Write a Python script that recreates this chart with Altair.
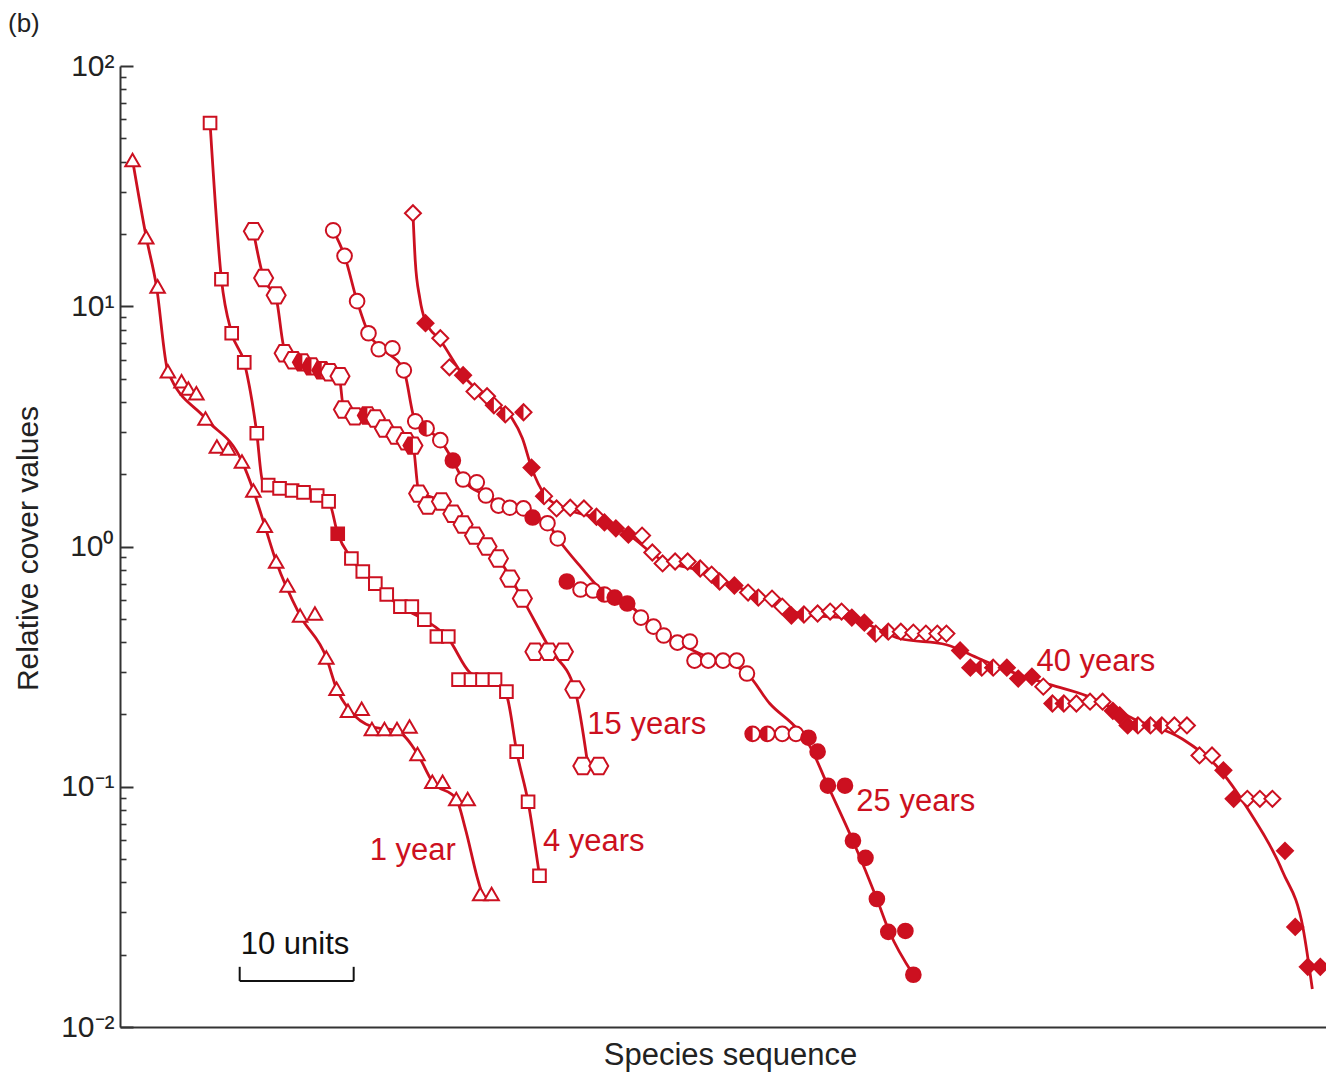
import altair as alt
import pandas as pd

RED = "#cc1020"
INK = "#222222"
FONT = "Liberation Sans"

# Species-sequence position (units) and relative cover of every species,
# one set per stand age.  Fill codes: o = open, f = filled, h = half filled.
X_1YR = [1.1, 2.3, 3.3, 4.2, 5.4, 6.0, 6.7, 7.5, 8.5, 9.5, 10.7, 11.7, 12.7, 13.7, 14.7, 15.8,
         17.1, 18.1, 19.0, 20.0, 21.2, 22.1, 23.2, 24.3, 25.4, 26.1, 27.4, 28.3, 29.5, 30.5, 31.6, 32.6]
Y_1YR = [40.6, 19.4, 12.1, 5.36, 4.87, 4.55, 4.34, 3.41, 2.61, 2.56, 2.26, 1.71, 1.22, 0.866, 0.688, 0.516,
         0.526, 0.345, 0.256, 0.207, 0.211, 0.174, 0.174, 0.174, 0.178, 0.137, 0.105, 0.105, 0.089, 0.089,
         0.0358, 0.0358]
F_1YR = list("o" * 32)

X_4YR = [7.9, 8.9, 9.8, 10.9, 12.0, 13.0, 14.0, 15.1, 16.1, 17.3, 18.3, 19.1, 20.3, 21.3, 22.4, 23.4,
         24.6, 25.6, 26.7, 27.8, 28.8, 29.7, 30.8, 31.8, 32.9, 33.9, 34.8, 35.8, 36.8]
Y_4YR = [57.9, 12.95, 7.72, 5.84, 2.96, 1.80, 1.745, 1.71, 1.68, 1.63, 1.54, 1.13, 0.891, 0.787, 0.701,
         0.631, 0.562, 0.562, 0.496, 0.422, 0.422, 0.279, 0.279, 0.279, 0.279, 0.249, 0.140, 0.0866, 0.0426]
F_4YR = list("ooooooooooo" "f" "ooooooooooooooooo")

X_15YR = [11.7, 12.6, 13.7, 14.4, 15.2, 16.0, 16.8, 17.7, 18.4, 19.3, 19.6, 20.6, 21.7, 22.4, 23.2, 24.2,
          25.1, 25.7, 26.2, 27.0, 28.2, 29.2, 30.1, 31.1, 32.2, 33.2, 34.2, 35.3, 36.4, 37.6, 38.9, 39.9,
          40.6, 42.0]
Y_15YR = [20.5, 13.1, 11.1, 6.37, 5.96, 5.84, 5.62, 5.41, 5.31, 5.11, 3.72, 3.48, 3.51, 3.41, 3.10, 2.90,
          2.74, 2.63, 1.66, 1.48, 1.54, 1.37, 1.235, 1.11, 1.0, 0.891, 0.735, 0.607, 0.365, 0.365, 0.365,
          0.254, 0.122, 0.122]
F_15YR = list("ooooohhhoo" "oohoooohoo" "oooooooooo" "oooo")

X_25YR = [18.7, 19.7, 20.8, 21.8, 22.7, 23.9, 24.9, 25.9, 26.9, 28.1, 29.2, 30.1, 31.3, 32.1, 33.2, 34.2,
          35.4, 36.2, 37.5, 38.4, 39.2, 40.4, 41.5, 42.5, 43.4, 44.5, 45.7, 46.8, 47.7, 48.9, 50.0, 50.4,
          51.6, 52.9, 54.1, 55.0, 55.5, 56.8, 58.1, 59.3, 60.4, 61.2, 62.1, 63.6, 64.3, 65.4, 66.4, 67.4,
          68.9, 69.6]
Y_25YR = [20.7, 16.2, 10.5, 7.72, 6.62, 6.68, 5.41, 3.32, 3.10, 2.77, 2.28, 1.90, 1.85, 1.63, 1.48, 1.45,
          1.44, 1.32, 1.25, 1.08, 0.715, 0.662, 0.656, 0.631, 0.613, 0.579, 0.506, 0.464, 0.426, 0.398,
          0.402, 0.335, 0.335, 0.335, 0.335, 0.296, 0.166, 0.166, 0.166, 0.166, 0.160, 0.140, 0.101, 0.101,
          0.0596, 0.0506, 0.0341, 0.0249, 0.0251, 0.0165]
F_25YR = list("ooooooooho" "foooooofoo" "foohffoooo" "oooooohhoo" "ffffffffff")

X_40YR = [25.7, 26.8, 28.1, 28.9, 30.1, 31.1, 32.2, 32.8, 33.8, 35.4, 36.1, 37.2, 38.3, 39.5, 40.7, 41.8,
          42.5, 43.5, 44.6, 45.8, 46.7, 47.6, 48.7, 49.8, 50.9, 51.9, 52.6, 53.9, 55.1, 56.0, 57.2, 58.1,
          58.9, 60.0, 61.2, 62.3, 63.3, 64.2, 65.3, 66.3, 67.4, 68.5, 69.6, 70.7, 71.7, 72.5, 73.7, 74.6,
          75.6, 76.6, 77.8, 78.8, 80.0, 81.0, 81.8, 82.8, 83.9, 85.1, 86.2, 87.1, 87.7, 88.4, 89.3, 90.4,
          91.4, 92.5, 93.6, 94.7, 95.8, 96.8, 97.7, 98.9, 100.0, 101.1, 102.2, 103.1, 104.2, 105.3]
Y_40YR = [24.4, 8.50, 7.36, 5.57, 5.16, 4.42, 4.22, 3.87, 3.55, 3.62, 2.13, 1.62, 1.44, 1.45, 1.44, 1.33,
          1.26, 1.19, 1.12, 1.11, 0.944, 0.850, 0.866, 0.866, 0.810, 0.764, 0.715, 0.688, 0.643, 0.613,
          0.607, 0.562, 0.516, 0.521, 0.526, 0.536, 0.536, 0.506, 0.482, 0.434, 0.442, 0.442, 0.438, 0.434,
          0.434, 0.434, 0.369, 0.313, 0.313, 0.313, 0.313, 0.282, 0.287, 0.261, 0.222, 0.222, 0.222, 0.226,
          0.226, 0.207, 0.198, 0.180, 0.180, 0.180, 0.180, 0.180, 0.180, 0.135, 0.135, 0.117, 0.0891,
          0.0891, 0.0891, 0.0891, 0.0541, 0.0261, 0.0178, 0.0178]
F_40YR = list("ofoofoohhh" "fhooohfffo" "oooohohfoh" "oofhoooffh" "hoooooffhh"
              "fffohhooof" "ffhhhoooof" "foooffff")

# Fitted curves drawn through each set
CX_1YR = [1.1, 2.3, 3.2, 4.2, 7.5, 10.7, 11.7, 12.7, 13.7, 15.8, 18.1, 19.0, 20.2, 22.1, 24.3, 26.1,
          27.4, 29.5, 30.3, 31.3, 31.9]
CY_1YR = [40.6, 19.4, 12.1, 5.36, 3.41, 2.26, 1.71, 1.22, 0.866, 0.516, 0.345, 0.256, 0.207, 0.178,
          0.171, 0.137, 0.105, 0.089, 0.0668, 0.0426, 0.0341]
CX_4YR = [7.9, 8.9, 9.8, 10.9, 12.0, 12.5, 13.3, 18.3, 19.1, 20.3, 22.4, 24.6, 26.7, 28.8, 30.7, 33.3,
          34.0, 34.8, 35.8, 36.8]
CY_4YR = [57.9, 12.95, 7.72, 5.84, 2.96, 1.88, 1.76, 1.54, 1.13, 0.891, 0.701, 0.562, 0.496, 0.414,
          0.299, 0.266, 0.233, 0.140, 0.0866, 0.0426]
CX_15YR = [11.7, 12.6, 13.7, 14.4, 15.2, 19.2, 19.6, 22.4, 24.2, 25.7, 26.2, 28.2, 31.1, 33.2, 35.3,
           37.7, 39.9, 41.0]
CY_15YR = [20.5, 13.1, 10.8, 6.68, 5.96, 5.21, 3.83, 3.41, 2.90, 2.63, 1.71, 1.54, 1.11, 0.891, 0.607,
           0.376, 0.254, 0.127]
CX_25YR = [18.7, 19.7, 20.8, 21.8, 23.2, 24.9, 25.9, 28.1, 29.2, 30.1, 32.1, 34.2, 36.2, 37.5, 38.4,
           40.4, 42.5, 44.5, 46.8, 48.9, 50.9, 55.0, 57.0, 59.4, 60.5, 62.1, 64.3, 66.4, 67.5, 69.6]
CY_25YR = [20.7, 16.2, 10.5, 7.72, 6.56, 5.41, 3.32, 2.77, 2.28, 1.90, 1.63, 1.45, 1.32, 1.25, 1.08,
           0.825, 0.643, 0.579, 0.464, 0.398, 0.358, 0.296, 0.222, 0.174, 0.148, 0.101, 0.0596, 0.0341,
           0.0249, 0.0165]
CX_40YR = [25.7, 25.9, 26.3, 26.8, 28.1, 30.1, 32.8, 34.4, 35.3, 36.1, 37.3, 38.6, 42.1, 44.6, 47.6,
           50.9, 53.9, 57.2, 60.0, 64.2, 68.4, 72.5, 75.4, 78.1, 81.6, 84.8, 88.9, 93.2, 96.2, 99.1,
           102.0, 103.8, 104.6]
CY_40YR = [24.4, 15.5, 10.8, 8.66, 7.22, 5.16, 3.94, 3.41, 2.82, 2.13, 1.63, 1.47, 1.30, 1.12, 0.874,
           0.794, 0.688, 0.590, 0.521, 0.501, 0.414, 0.390, 0.341, 0.302, 0.266, 0.239, 0.192, 0.158,
           0.122, 0.0787, 0.0443, 0.0256, 0.0144]

# Curve labels
LABELS = ["1 year", "4 years", "15 years", "25 years", "40 years"]
LABEL_X = [21.9, 37.1, 41.0, 64.6, 80.4]
LABEL_Y = [0.0541, 0.059, 0.181, 0.0866, 0.332]

# 10-unit scale bar
SCALEBAR_X = [10.5, 20.5]
SCALEBAR_Y = 0.01555
SCALEBAR_TOP = 0.0178
SCALEBAR_TEXT_Y = 0.0220

MAJOR_TICKS = [0.01, 0.1, 1, 10, 100]
MINOR_TICKS = [k * 10.0 ** d for d in (-2, -1, 0, 1) for k in range(2, 10)]

# Marker outlines (unit box -1..1); hexagon and left-half overlays
HEXAGON = "M-1,0 L-0.5,-0.866 L0.5,-0.866 L1,0 L0.5,0.866 L-0.5,0.866 Z"
HEX_HALF = "M0,-0.866 L-0.5,-0.866 L-1,0 L-0.5,0.866 L0,0.866 Z"
CIRCLE_HALF = "M0,-1 A1,1 0 0 0 0,1 Z"
DIAMOND_HALF = "M0,-1 L-1,0 L0,1 Z"

XSCALE = alt.Scale(domain=[0, 105.8], nice=False, zero=False)
YSCALE = alt.Scale(type="log", domain=[0.01, 100], nice=False)

X_AXIS = alt.Axis(orient="bottom", ticks=False, labels=False, grid=False, domain=True,
                  domainColor="#333333", domainWidth=2, title="Species sequence", titleFont=FONT,
                  titleFontSize=31, titleFontWeight="normal", titleColor=INK, titleX=610, titleY=37,
                  titleBaseline="alphabetic")
Y_AXIS = alt.Axis(orient="left", values=MAJOR_TICKS, ticks=False, tickSize=0, grid=False, domain=True,
                  domainColor="#333333", domainWidth=2,
                  labelExpr="'10' + ['\u207b\u00b2','\u207b\u00b9','\u2070','\u00b9','\u00b2']"
                            "[round(log(datum.value)/LN10) + 2]",
                  labelFont=FONT, labelFontSize=30, labelColor=INK, labelPadding=6,
                  title="Relative cover values", titleFont=FONT, titleFontSize=30,
                  titleFontWeight="normal", titleColor=INK, titleAngle=-90, titleX=-92, titleY=482,
                  titleAlign="center", titleBaseline="middle")


def xy():
    return dict(x=alt.X("x:Q", scale=XSCALE, axis=X_AXIS),
                y=alt.Y("y:Q", scale=YSCALE, axis=Y_AXIS))


SERIES = [
    (X_1YR, Y_1YR, F_1YR, CX_1YR, CY_1YR, "triangle-up", None, 210),
    (X_4YR, Y_4YR, F_4YR, CX_4YR, CY_4YR, "square", None, 160),
    (X_15YR, Y_15YR, F_15YR, CX_15YR, CY_15YR, HEXAGON, HEX_HALF, 361),
    (X_25YR, Y_25YR, F_25YR, CX_25YR, CY_25YR, "circle", CIRCLE_HALF, 215),
    (X_40YR, Y_40YR, F_40YR, CX_40YR, CY_40YR, "diamond", DIAMOND_HALF, 256),
]

FILL_SCALE = alt.Scale(domain=["o", "f", "h"], range=["white", RED, "white"])

lines, markers = [], []
for xs, ys, fills, cxs, cys, shape, half, size in SERIES:
    curve = pd.DataFrame({"x": cxs, "y": cys})
    pts = pd.DataFrame({"x": xs, "y": ys, "fill": fills})
    lines.append(
        alt.Chart(curve).mark_line(color=RED, strokeWidth=2.8, interpolate="monotone").encode(**xy())
    )
    markers.append(
        alt.Chart(pts).mark_point(shape=shape, size=size, filled=True, stroke=RED,
                                  strokeWidth=2, opacity=1).encode(
            fill=alt.Fill("fill:N", scale=FILL_SCALE, legend=None), **xy()
        )
    )
    if half is not None and "h" in fills:
        markers.append(
            alt.Chart(pts).transform_filter(alt.datum.fill == "h").mark_point(
                shape=half, size=size, filled=True, color=RED, strokeWidth=0, opacity=1
            ).encode(**xy())
        )

labels = alt.Chart(pd.DataFrame({"label": LABELS, "x": LABEL_X, "y": LABEL_Y})).mark_text(
    align="left", baseline="middle", font=FONT, fontSize=31, color=RED
).encode(text="label:N", **xy())

bar = alt.Chart(pd.DataFrame({"x": [SCALEBAR_X[0]], "x2": [SCALEBAR_X[1]], "y": [SCALEBAR_Y]})).mark_rule(
    color="#111111", strokeWidth=2
).encode(x2="x2:Q", **xy())
bar_ends = alt.Chart(pd.DataFrame({"x": SCALEBAR_X, "y": [SCALEBAR_Y] * 2,
                                   "y2": [SCALEBAR_TOP] * 2})).mark_rule(
    color="#111111", strokeWidth=2
).encode(y2="y2:Q", **xy())
bar_text = alt.Chart(pd.DataFrame({"t": ["10 units"], "x": [sum(SCALEBAR_X) / 2 - 0.15],
                                   "y": [SCALEBAR_TEXT_Y]})).mark_text(
    align="center", baseline="middle", font=FONT, fontSize=31, color="#111111"
).encode(text="t:N", **xy())

plot = alt.layer(*lines, *markers, labels, bar, bar_ends, bar_text)

# Inward-pointing log ticks: long at decades, short in between
major = alt.Chart(pd.DataFrame({"y": MAJOR_TICKS})).mark_point(opacity=0).encode(
    y=alt.Y("y:Q", scale=YSCALE, axis=alt.Axis(orient="left", values=MAJOR_TICKS, offset=-13,
                                               tickSize=13, tickWidth=2, tickColor="#333333",
                                               labels=False, domain=False, grid=False, title=None))
)
minor = alt.Chart(pd.DataFrame({"y": MINOR_TICKS})).mark_point(opacity=0).encode(
    y=alt.Y("y:Q", scale=YSCALE, axis=alt.Axis(orient="left", values=MINOR_TICKS, offset=-6,
                                               tickSize=6, tickWidth=1.6, tickColor="#333333",
                                               labels=False, domain=False, grid=False, title=None))
)

chart = alt.layer(plot, major, minor).resolve_axis(y="independent").properties(
    width=1206,
    height=961,
    padding={"left": 120, "top": 66, "right": 0, "bottom": 46},
    autosize=alt.AutoSizeParams(type="none"),
    background="white",
    title=alt.TitleParams("(b)", anchor="start", frame="bounds", font=FONT, fontSize=26,
                          fontWeight="normal", color=INK, offset=14, dx=-5),
).configure_view(stroke=None)

chart.save("out.html", embed_options={"renderer": "svg", "actions": False})
